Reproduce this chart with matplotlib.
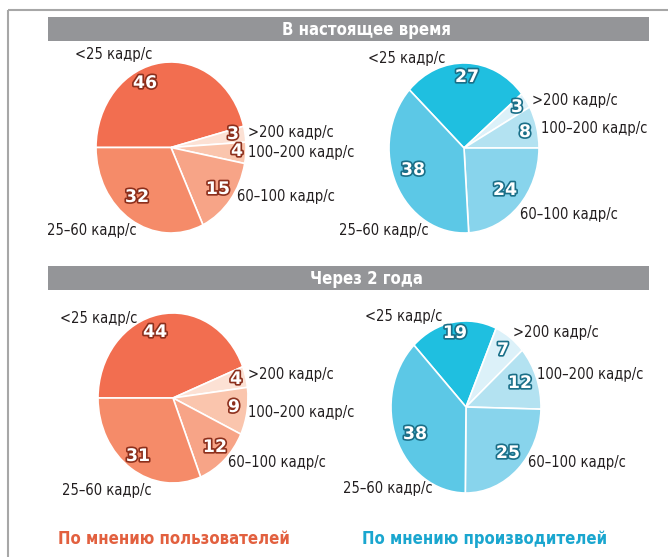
import matplotlib
matplotlib.use('Agg')
import matplotlib.pyplot as plt
import matplotlib.patheffects as pe

W, H = 668, 557

# данные (порядок секторов: <25, >200, 100-200, 60-100, 25-60)
cats = ['<25 кадр/с', '>200 кадр/с', '100–200 кадр/с', '60–100 кадр/с', '25–60 кадр/с']
users_now = [46, 3, 4, 15, 32]
makers_now = [27, 3, 8, 24, 38]
users_2y = [44, 4, 9, 12, 31]
makers_2y = [19, 7, 12, 25, 38]

headers = ['В настоящее время', 'Через 2 года']
footers = ['По мнению пользователей', 'По мнению производителей']

reds = ['#F26E50', '#FCE1D4', '#FAC5AD', '#F7A487', '#F58B69']
blues = ['#1FBFE0', '#DCF1F9', '#B3E2F1', '#88D4EC', '#5CC8E6']

narrow = ['DejaVu Sans']

fig = plt.figure(figsize=(W / 100, H / 100), dpi=100)
fig.patch.set_facecolor('white')

# pie: (values, colors, outline, center, rx, ry, startangle, number pos, label pos)
pies = [
    (users_now, reds, '#8C2F1C', (171, 147.5), 75, 85.5, 180,
     [(145, 83), (233, 134), (237, 151), (218, 189), (137, 197)],
     [(75, 54), (248, 133), (248, 152), (237, 197), (47, 231)]),
    (makers_now, blues, '#1A6F88', (464, 148), 75, 85, 136.8,
     [(467, 77), (517, 107), (525, 132), (505, 190), (413, 170)],
     [(368, 58), (532, 100), (541, 129), (520, 214), (339, 231)]),
    (users_2y, reds, '#8C2F1C', (173, 398), 75, 85, 180,
     [(155, 332), (236, 379), (234, 407), (215, 447), (138, 456)],
     [(60, 318), (248, 375), (248, 413), (228, 463), (62, 490)]),
    (makers_2y, blues, '#1A6F88', (466, 407), 75, 86, 134,
     [(455, 333), (503, 350), (520, 383), (508, 453), (415, 434)],
     [(365, 317), (513, 333), (537, 374), (528, 463), (343, 489)]),
]

for vals, cols, outline, (cx, cy), rx, ry, start, npos, lpos in pies:
    ax = fig.add_axes([(cx - rx) / W, 1 - (cy + ry) / H, 2 * rx / W, 2 * ry / H])
    ax.pie(vals, colors=cols, startangle=start, counterclock=False, radius=1,
           wedgeprops=dict(edgecolor='white', linewidth=1.2))
    ax.set_xlim(-1, 1)
    ax.set_ylim(-1, 1)
    ax.set_aspect('auto')
    ax.axis('off')

ov = fig.add_axes([0, 0, 1, 1])
ov.set_xlim(0, W)
ov.set_ylim(H, 0)
ov.axis('off')
ov.patch.set_alpha(0)

# рамка
ov.plot([8, W], [9.5, 9.5], color='#A7A7A7', lw=1.5, solid_capstyle='butt')
ov.plot([7.5, 7.5], [9.5, H], color='#A7A7A7', lw=1.5, solid_capstyle='butt')

# заголовки
for (y0, y1), txt in zip([(17, 41), (266, 290)], headers):
    ov.add_patch(plt.Rectangle((48, y0), 601, y1 - y0, color='#949598', lw=0))
    ov.text(366, (y0 + y1) / 2 + 1, txt, color='white', fontsize=12, fontweight='bold',
            family=narrow, stretch='condensed', ha='center', va='center')

for vals, cols, outline, c, rx, ry, start, npos, lpos in pies:
    for v, (x, y) in zip(vals, npos):
        ov.text(x, y, str(v), color='white', fontsize=12.5, fontweight='bold',
                family='DejaVu Sans', ha='center', va='center',
                path_effects=[pe.withStroke(linewidth=2.4, foreground=outline)])
    for lab, (x, y) in zip(cats, lpos):
        ov.text(x, y, lab, color='#231F20', fontsize=10.5, family=narrow,
                stretch='condensed', ha='left', va='center')

ov.text(174, 539, footers[0], color='#E2603F', fontsize=12, fontweight='bold',
        family=narrow, stretch='condensed', ha='center', va='center')
ov.text(485, 539, footers[1], color='#1AA6CF', fontsize=12, fontweight='bold',
        family=narrow, stretch='condensed', ha='center', va='center')

fig.savefig('out.png', dpi=100, facecolor='white')
